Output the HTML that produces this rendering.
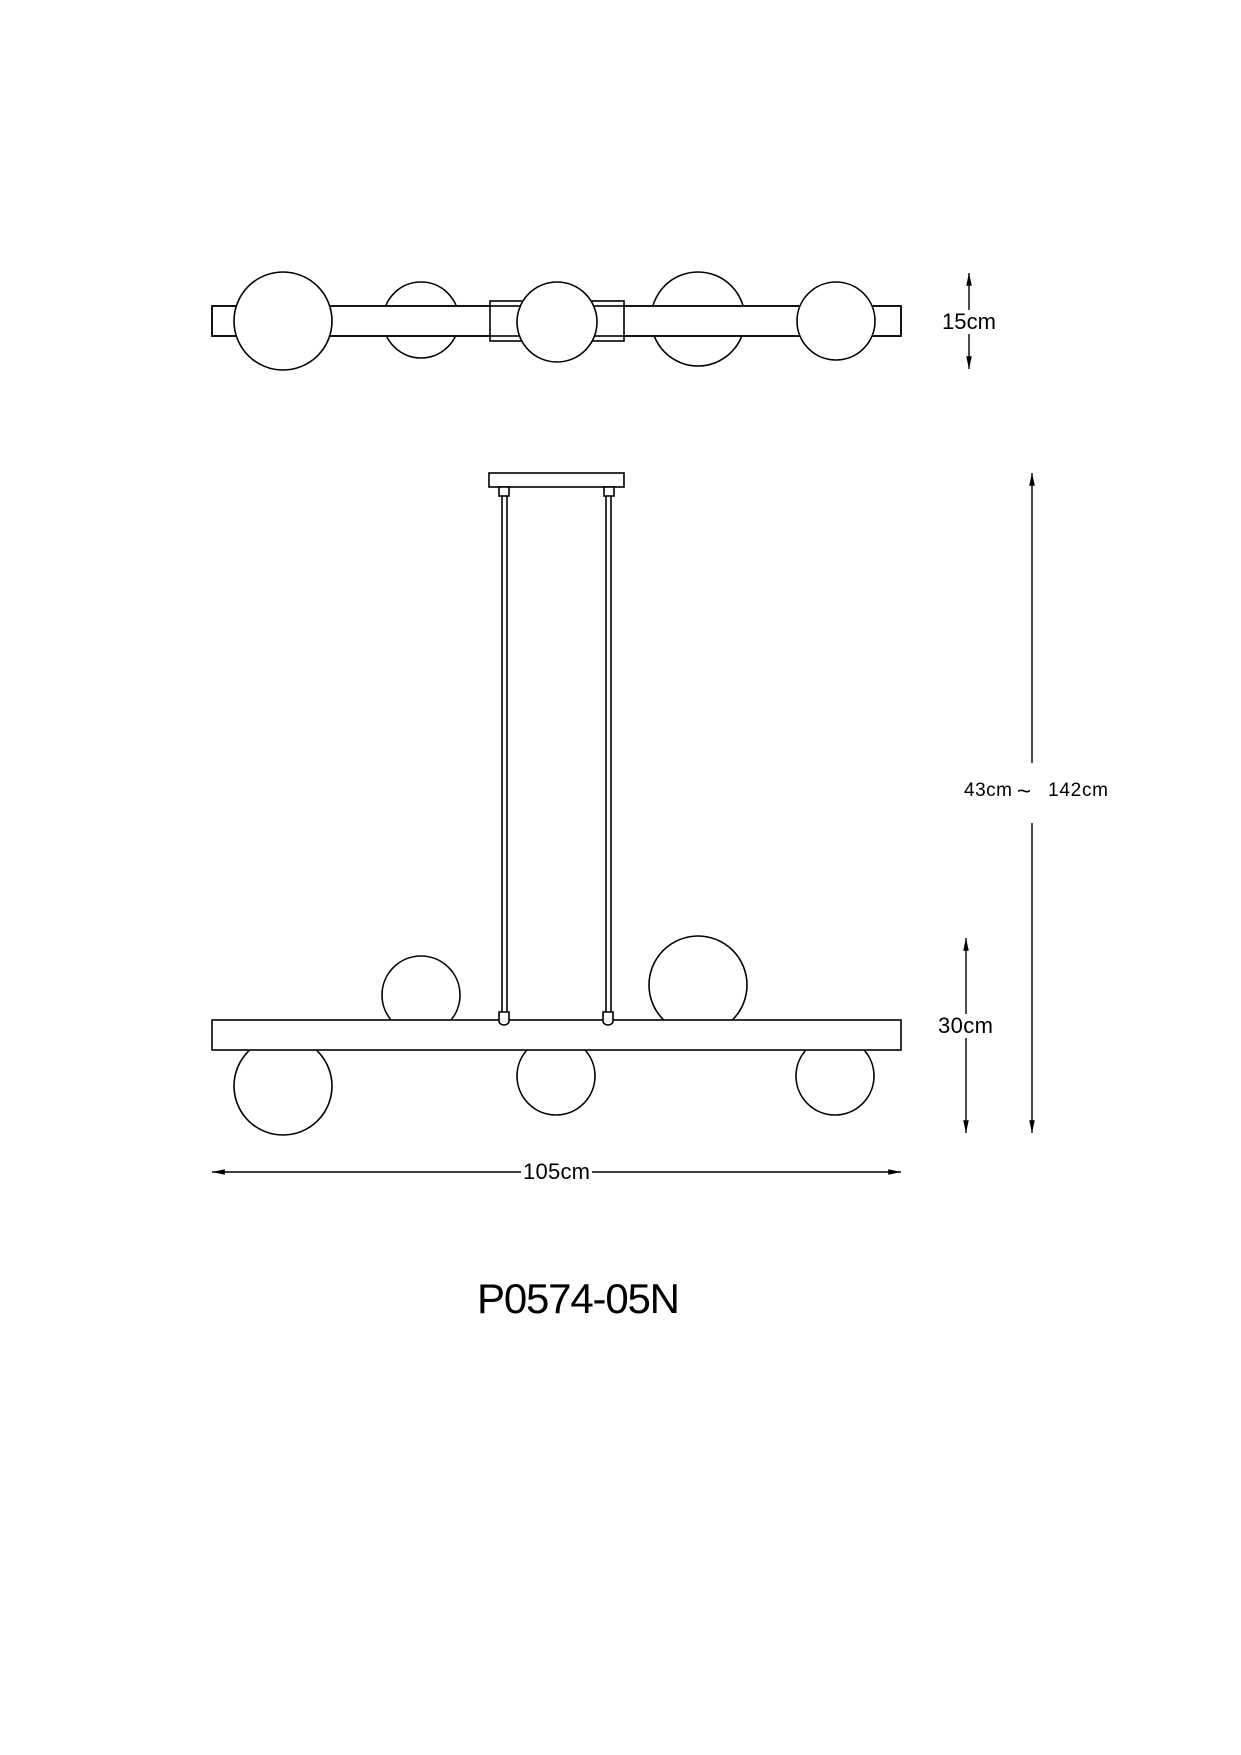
<!DOCTYPE html>
<html><head><meta charset="utf-8"><style>html,body{margin:0;padding:0;background:#fff}svg{display:block}</style></head>
<body>
<svg width="1241" height="1755" viewBox="0 0 1241 1755" xmlns="http://www.w3.org/2000/svg">
<defs>
<marker id="b" viewBox="0 0 16 10" refX="16" refY="5" markerWidth="16" markerHeight="8" markerUnits="userSpaceOnUse" orient="auto-start-reverse"><path d="M0,1.5 L16,5 L0,8.5 z" fill="#000"/></marker>
</defs>
<g fill="#fff" stroke="#000" stroke-width="1.6">
<!-- top view -->
<circle cx="421" cy="320" r="38"/>
<circle cx="698" cy="319" r="47"/>
<rect x="212" y="306" width="689" height="30"/>
<rect x="490" y="301" width="134" height="40"/>
<rect x="212" y="306" width="689" height="30" fill="none"/>
<circle cx="283" cy="321" r="49"/>
<circle cx="557" cy="322" r="40"/>
<circle cx="836" cy="321" r="39"/>
<!-- side view -->
<rect x="489" y="473" width="135" height="14"/>
<rect x="499" y="487" width="10" height="9"/>
<rect x="604" y="487" width="10" height="9"/>
<line x1="502" y1="496" x2="502" y2="1012"/><line x1="507" y1="496" x2="507" y2="1012"/>
<line x1="606" y1="496" x2="606" y2="1012"/><line x1="611" y1="496" x2="611" y2="1012"/>
<circle cx="421" cy="995" r="39"/>
<circle cx="698" cy="985" r="49"/>
<circle cx="283" cy="1086" r="49"/>
<circle cx="556" cy="1076" r="39"/>
<circle cx="835" cy="1076" r="39"/>
<rect x="212" y="1020" width="689" height="30"/>
<path d="M499,1012 h10 v9 a5,4 0 0 1 -10,0 z"/>
<path d="M603,1012 h10 v9 a5,4 0 0 1 -10,0 z"/>
</g>
<g stroke="#000" stroke-width="1.4" fill="none">
<line x1="969" y1="310" x2="969" y2="273" marker-end="url(#b)"/>
<line x1="969" y1="334" x2="969" y2="369" marker-end="url(#b)"/>
<line x1="1032" y1="763" x2="1032" y2="473" marker-end="url(#b)"/>
<line x1="1032" y1="823" x2="1032" y2="1133" marker-end="url(#b)"/>
<line x1="966" y1="1014" x2="966" y2="938" marker-end="url(#b)"/>
<line x1="966" y1="1038" x2="966" y2="1133" marker-end="url(#b)"/>
<line x1="521" y1="1172" x2="212" y2="1172" marker-end="url(#b)"/>
<line x1="592" y1="1172" x2="901" y2="1172" marker-end="url(#b)"/>
</g>
<g font-family="Liberation Sans, Arial, sans-serif" fill="#000">
<text x="942" y="329" font-size="22" textLength="54">15cm</text>
<text x="938" y="1033" font-size="22" textLength="55">30cm</text>
<text x="523" y="1179" font-size="22" textLength="67">105cm</text>
<text x="964" y="796" font-size="19" textLength="48">43cm</text>
<text x="1017" y="799" font-size="24">~</text>
<text x="1048" y="796" font-size="19" textLength="60">142cm</text>
<text x="477" y="1313" font-size="42" textLength="203">P0574-05N</text>
</g>
</svg>
</body></html>
